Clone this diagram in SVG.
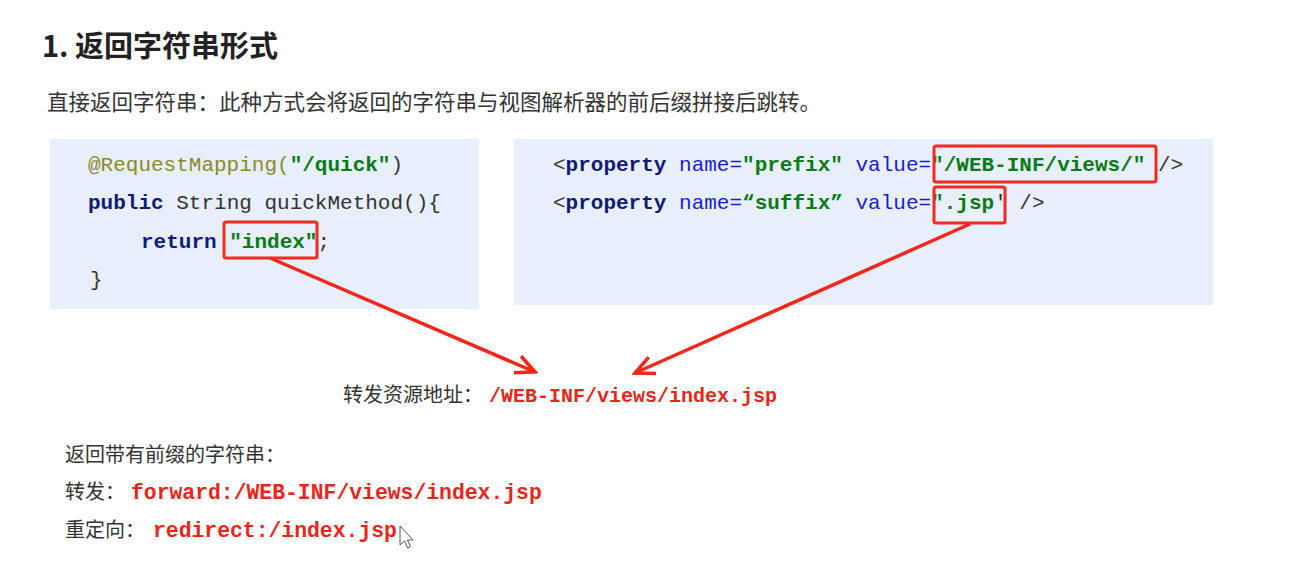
<svg xmlns="http://www.w3.org/2000/svg" width="1306" height="575" viewBox="0 0 1306 575">
<style>
.cjk{font-family:"Noto Sans CJK SC","Noto Sans",sans-serif;fill:#333}
.code{font-family:"Liberation Mono","DejaVu Sans Mono",monospace;font-size:21px}
.plain{fill:#333}
.ann{fill:#8a8a2a}
.str{fill:#087a16;font-weight:bold}
.kw{fill:#0f1a7a;font-weight:bold}
.attr{fill:#1c1ccc}
.red{font-family:"Liberation Mono","DejaVu Sans Mono",monospace;font-weight:bold;fill:#e8251a}
.panel{fill:#e7effb}
.hl{fill:none;stroke:#f22b1e;stroke-width:3;rx:2}
.conn{stroke:#f2261a;stroke-width:3.5;fill:none}
</style>
<defs>
<marker id="ah" markerUnits="userSpaceOnUse" markerWidth="26" markerHeight="26" viewBox="0 0 26 26" refX="23" refY="13" orient="auto">
<path d="M4,4 L23,13 L4,22" fill="none" stroke="#f2261a" stroke-width="3.5" stroke-linejoin="miter"/>
</marker>
</defs>
<rect width="1306" height="575" fill="#fff"/>
<g id="title">
<text x="42" y="57" class="cjk" font-size="29" font-weight="bold" style="fill:#222">1. 返回字符串形式</text>
</g>
<g id="intro">
<text x="47" y="110" class="cjk" font-size="21.5">直接返回字符串：此种方式会将返回的字符串与视图解析器的前后缀拼接后跳转。</text>
</g>
<g id="controller-code">
<rect class="panel" x="50" y="139" width="429" height="170"/>
<text class="code" x="88" y="171"><tspan class="ann">@RequestMapping(</tspan><tspan class="str">"/quick"</tspan><tspan class="plain">)</tspan></text>
<text class="code" x="88" y="209"><tspan class="kw">public</tspan><tspan class="plain"> String quickMethod(){</tspan></text>
<text class="code" x="141" y="248"><tspan class="kw">return</tspan><tspan class="plain"> </tspan><tspan class="str">"index"</tspan><tspan class="plain">;</tspan></text>
<text class="code plain" x="90" y="286">}</text>
<rect class="hl" x="224" y="222" width="93" height="36"/>
</g>
<g id="resolver-config">
<rect class="panel" x="514" y="139" width="699" height="166"/>
<text class="code" x="553" y="171"><tspan class="plain">&lt;</tspan><tspan class="kw">property</tspan><tspan class="attr"> name=</tspan><tspan class="str">"prefix"</tspan><tspan class="attr"> value=</tspan><tspan class="str">"/WEB-INF/views/"</tspan><tspan class="plain"> /&gt;</tspan></text>
<text class="code" x="553" y="209"><tspan class="plain">&lt;</tspan><tspan class="kw">property</tspan><tspan class="attr"> name=</tspan><tspan class="str">“suffix”</tspan><tspan class="attr"> value=</tspan><tspan class="str">".jsp</tspan><tspan class="plain">' /&gt;</tspan></text>
<rect class="hl" x="934" y="146" width="222" height="36"/>
<rect class="hl" x="934" y="187" width="71" height="36"/>
</g>
<g id="connectors">
<line class="conn" x1="270" y1="258" x2="535" y2="372" marker-end="url(#ah)"/>
<line class="conn" x1="970" y1="224" x2="635" y2="373" marker-end="url(#ah)"/>
</g>
<g id="result">
<text x="343" y="402" class="cjk" font-size="20">转发资源地址：</text>
<text x="489" y="402" class="red" font-size="20">/WEB-INF/views/index.jsp</text>
</g>
<g id="prefixed">
<text x="65" y="462" class="cjk" font-size="20">返回带有前缀的字符串：</text>
<text x="65" y="499" class="cjk" font-size="20">转发：</text>
<text x="131" y="499" class="red" font-size="21.4">forward:/WEB-INF/views/index.jsp</text>
<text x="65" y="537" class="cjk" font-size="20">重定向：</text>
<text x="153" y="537" class="red" font-size="21.4">redirect:/index.jsp</text>
</g>
<path d="M400,526 L400,545 L404.5,541 L407.5,548 L410.5,546.5 L407.5,540 L413,540 Z" fill="#fff" stroke="#555" stroke-width="1"/>
</svg>
